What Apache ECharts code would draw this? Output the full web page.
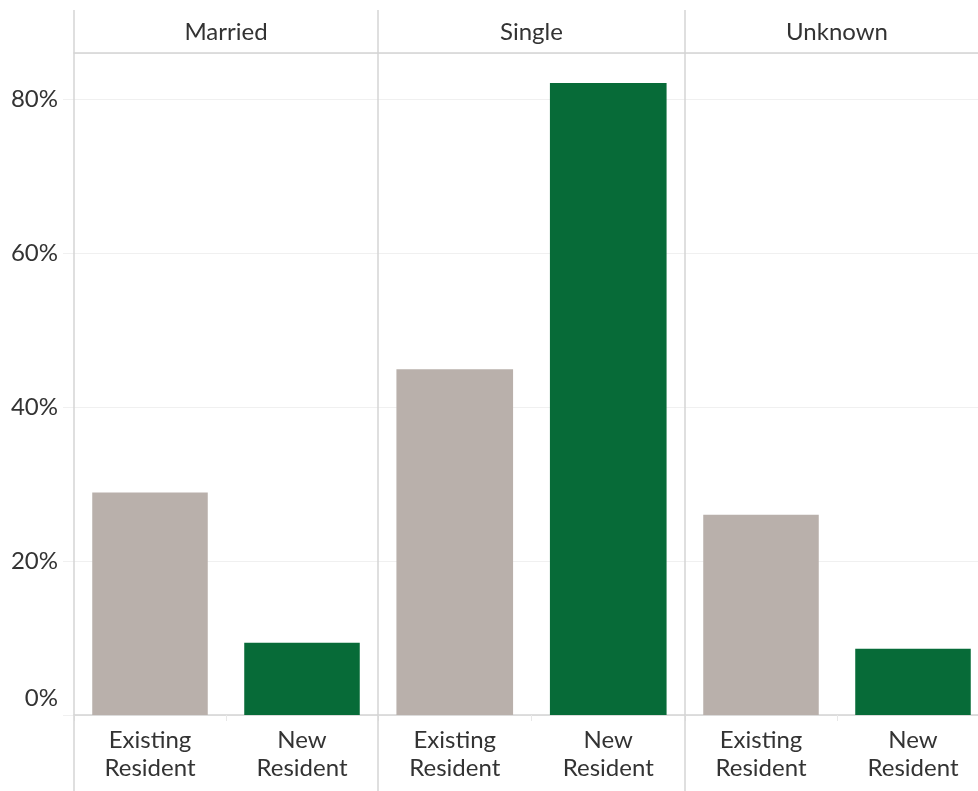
<!DOCTYPE html>
<html>
<head>
<meta charset="utf-8">
<script src="https://cdn.jsdelivr.net/npm/echarts@6/dist/echarts.min.js"></script>
<style>
html,body{margin:0;padding:0;background:#fff;overflow:hidden;width:978px;height:791px;}
#c{width:989px;height:791px;}
</style>
</head>
<body>
<div id="c"></div>
<script>
// ---- data ----
const panels = ['Married', 'Single', 'Unknown'];
const categories = ['Existing\nResident', 'New\nResident'];
const existingResident = [28.9, 44.9, 26.0];
const newResident = [9.4, 82.1, 8.6];
const yTicks = [0, 20, 40, 60, 80];

// ---- layout / style ----
const panelLeft = [74, 378, 685];
const panelWidth = [304, 307, 304];
const gridTop = 53, gridHeight = 662;
const barColors = ['#b9b0ab', '#076b38'];
const lineColor = '#d4d4d4';
const gridColor = '#f0f0f0';
const textColor = '#333333';
const font = 'Lato';
const fs = 24;

const chart = echarts.init(document.getElementById('c'), null, {renderer: 'canvas'});

const grids = [], xAxes = [], yAxes = [], series = [];
panels.forEach((p, i) => {
  grids.push({left: panelLeft[i], top: gridTop, width: panelWidth[i], height: gridHeight, containLabel: false});
  xAxes.push({
    type: 'category', gridIndex: i, data: categories, position: 'bottom',
    axisLine: {show: true, lineStyle: {color: lineColor, width: 1.5}},
    axisTick: {show: true, length: 6, lineStyle: {color: '#e8e8e8'}},
    axisLabel: {color: textColor, fontFamily: font, fontSize: fs, lineHeight: 28, margin: 11}
  });
  xAxes.push({
    type: 'category', gridIndex: i, data: [p], position: 'top',
    axisLine: {show: true, lineStyle: {color: lineColor, width: 1.5}},
    axisTick: {show: false},
    axisLabel: {color: textColor, fontFamily: font, fontSize: fs, lineHeight: 24, margin: 9}
  });
  yAxes.push({
    type: 'value', gridIndex: i, min: 0, max: 86, interval: 20,
    axisLine: {show: false},
    axisTick: {show: i === 0, length: 11, lineStyle: {color: gridColor}},
    splitLine: {show: true, lineStyle: {color: gridColor, width: 1}},
    axisLabel: {
      show: i === 0, color: textColor, fontFamily: font, fontSize: fs, margin: 16,
      showMaxLabel: false,
      formatter: v => yTicks.includes(v) ? (v === 0 ? '{z|0%}' : v + '%') : '',
      rich: {z: {color: textColor, fontFamily: font, fontSize: fs, padding: [0, 0, 34, 0]}}
    }
  });
  series.push({
    type: 'bar', xAxisIndex: i * 2, yAxisIndex: i,
    barCategoryGap: '24%',
    data: [
      {value: existingResident[i], itemStyle: {color: barColors[0]}},
      {value: newResident[i], itemStyle: {color: barColors[1]}}
    ],
    silent: true
  });
});

const vlines = panelLeft.map(x => ({
  type: 'line', z: 100,
  shape: {x1: x, y1: 10, x2: x, y2: 791},
  style: {stroke: lineColor, lineWidth: 1.5}
}));

chart.setOption({
  backgroundColor: '#ffffff',
  animation: false,
  grid: grids,
  xAxis: xAxes,
  yAxis: yAxes,
  series: series,
  graphic: vlines
});
</script>
</body>
</html>
